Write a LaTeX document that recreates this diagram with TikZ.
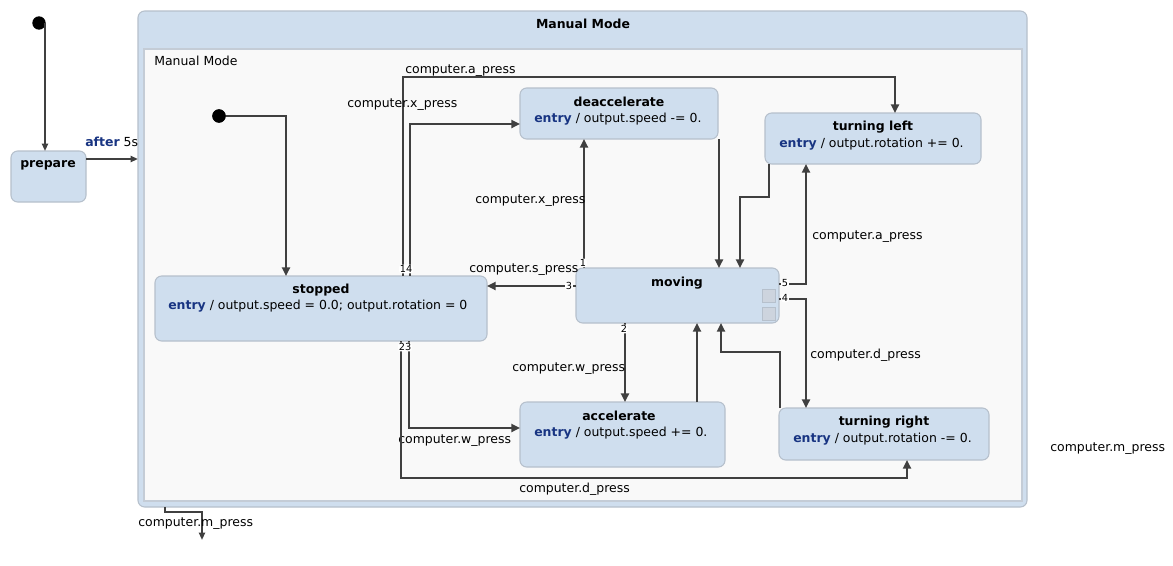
\documentclass[tikz,border=0pt]{standalone}
\usepackage{fontspec}
\setmainfont{DejaVu Sans}
\usetikzlibrary{arrows.meta}
\definecolor{boxfill}{RGB}{207,222,238}
\definecolor{boxline}{RGB}{182,192,204}
\definecolor{regfill}{RGB}{249,249,249}
\definecolor{regline}{RGB}{196,204,214}
\definecolor{conncol}{RGB}{64,64,64}
\definecolor{kw}{RGB}{24,52,130}
\definecolor{sqfill}{RGB}{205,212,222}
\begin{document}
\begin{tikzpicture}[x=0.75pt,y=-0.75pt,
  font=\fontsize{9.35}{11}\selectfont,
  state/.style={draw=boxline, fill=boxfill, rounded corners=5pt, line width=0.8pt, inner sep=0pt, outer sep=0pt},
  conn/.style={draw=conncol, line width=2.2pt, -{Triangle[length=6.5pt,width=6pt]}},
  tconn/.style={draw=conncol, line width=1.4pt, -{Triangle[length=5.5pt,width=4.5pt]}},
  lbl/.style={anchor=mid west, inner sep=0pt},
  ttl/.style={inner sep=0pt, font=\fontsize{9.35}{11}\selectfont\bfseries},
  port/.style={fill=white, rounded corners=2pt, inner sep=0.6pt, font=\fontsize{7.3}{8}\selectfont},
  initdot/.style={circle, fill=black, inner sep=0pt, minimum size=10pt}]
\useasboundingbox (0,0) rectangle (1173,565);
\fill[white] (0,0) rectangle (1173,565);

% outer composite
\node[state, minimum width=666.75pt, minimum height=372pt] (outer) at (582.5,259) {};
\node[draw=regline, fill=regfill, line width=0.8pt, inner sep=0pt, outer sep=0pt, minimum width=658.5pt, minimum height=339pt] (region) at (583,275) {};
\node[ttl] (outerttl) at (583,24) {Manual Mode};
\node[lbl] (regttl) at (154,62) {Manual Mode};

% outer level
\node[initdot] (init1) at (39,23) {};
\node[state, minimum width=56.25pt, minimum height=38.25pt] (prepare) at (48.5,176.5) {};
\node[ttl] at (48,165) {prepare};

% states
\node[state, minimum width=249pt, minimum height=48.75pt] (stopped) at (321,308.5) {};
\node[ttl] at (321,290) {stopped};
\node[lbl] at (168,306) {\textcolor{kw}{\bfseries entry} / output.speed = 0.0; output.rotation = 0};

\node[state, minimum width=152.25pt, minimum height=41.25pt] (moving) at (677.5,295.5) {};
\node[ttl] at (677,283) {moving};
\node[draw=boxline, fill=sqfill, line width=0.5pt, inner sep=0pt, minimum size=9.5pt] (sq1) at (768.5,295.5) {};
\node[draw=boxline, fill=sqfill, line width=0.5pt, inner sep=0pt, minimum size=9.5pt] (sq2) at (768.5,313.5) {};

\node[state, minimum width=148.5pt, minimum height=38.25pt] (deacc) at (619,113.5) {};
\node[ttl] at (619,102) {deaccelerate};
\node[lbl] at (534,119) {\textcolor{kw}{\bfseries entry} / output.speed -= 0.};

\node[state, minimum width=162pt, minimum height=38.25pt] (tleft) at (873,138.5) {};
\node[ttl] at (873,127) {turning left};
\node[lbl] at (779,144) {\textcolor{kw}{\bfseries entry} / output.rotation += 0.};

\node[state, minimum width=153.75pt, minimum height=48.75pt] (accel) at (622.5,434.5) {};
\node[ttl] at (619,416) {accelerate};
\node[lbl] at (534,433) {\textcolor{kw}{\bfseries entry} / output.speed += 0.};

\node[state, minimum width=157.5pt, minimum height=39pt] (tright) at (884,434) {};
\node[ttl] at (884,422) {turning right};
\node[lbl] at (793,439) {\textcolor{kw}{\bfseries entry} / output.rotation -= 0.};

\node[initdot] (init2) at (219,116) {};

% outer connectors
\draw[tconn] (init1.center -| 45,0) -- (prepare.north -| 45,0);
\draw[tconn] (prepare.east |- 0,159) -- (outer.west |- 0,159);
\node[lbl] at (85,143) {\textcolor{kw}{\bfseries after} 5s};
\draw[tconn] (outer.south -| 165,0) -- (165,512) -- (202,512) -- (202,540);
\node[lbl] at (138,523) {computer.m\_press};
\node[lbl] at (1050,448) {computer.m\_press};

% inner connectors
\draw[conn] (init2.center) -- (286,116) -- (stopped.north -| 286,0);
\node[initdot] at (219,116) {};

\draw[conn] (stopped.north -| 403,0) -- (403,77) -- (895,77) -- (tleft.north -| 895,0);
\node[lbl] at (405,70) {computer.a\_press};
\draw[conn] (stopped.north -| 410,0) -- (410,124) -- (deacc.west |- 0,124);
\node[lbl] at (347,104) {computer.x\_press};
\draw[conn] (stopped.south -| 409,0) -- (409,428) -- (accel.west |- 0,428);
\node[lbl] at (398,440) {computer.w\_press};
\draw[conn] (stopped.south -| 401,0) -- (401,478) -- (907,478) -- (tright.south -| 907,0);
\node[lbl] at (519,489) {computer.d\_press};

\draw[conn] (moving.north -| 584,0) -- (deacc.south -| 584,0);
\node[lbl] at (475,200) {computer.x\_press};
\draw[conn] (deacc.south -| 719,0) -- (moving.north -| 719,0);
\draw[conn] (tleft.south -| 769,0) -- (769,197) -- (740,197) -- (moving.north -| 740,0);
\draw[conn] (moving.east |- 0,284) -- (806,284) -- (tleft.south -| 806,0);
\node[lbl] at (812,236) {computer.a\_press};
\draw[conn] (moving.east |- 0,299) -- (806,299) -- (tright.north -| 806,0);
\node[lbl] at (810,355) {computer.d\_press};
\draw[conn] (tright.north -| 780,0) -- (780,352) -- (721,352) -- (moving.south -| 721,0);
\draw[conn] (moving.south -| 625,0) -- (accel.north -| 625,0);
\node[lbl] at (512,368) {computer.w\_press};
\draw[conn] (accel.north -| 697,0) -- (moving.south -| 697,0);
\draw[conn] (moving.west |- 0,286) -- (stopped.east |- 0,286);
\node[lbl] at (469,269) {computer.s\_press};

% port numbers
\node[port] at (406,269) {14};
\node[port] at (405,347) {23};
\node[port] at (583,263) {1};
\node[port] at (569,286) {3};
\node[port] at (624,329) {2};
\node[port] at (785,283) {5};
\node[port] at (785,298) {4};
\end{tikzpicture}
\end{document}
